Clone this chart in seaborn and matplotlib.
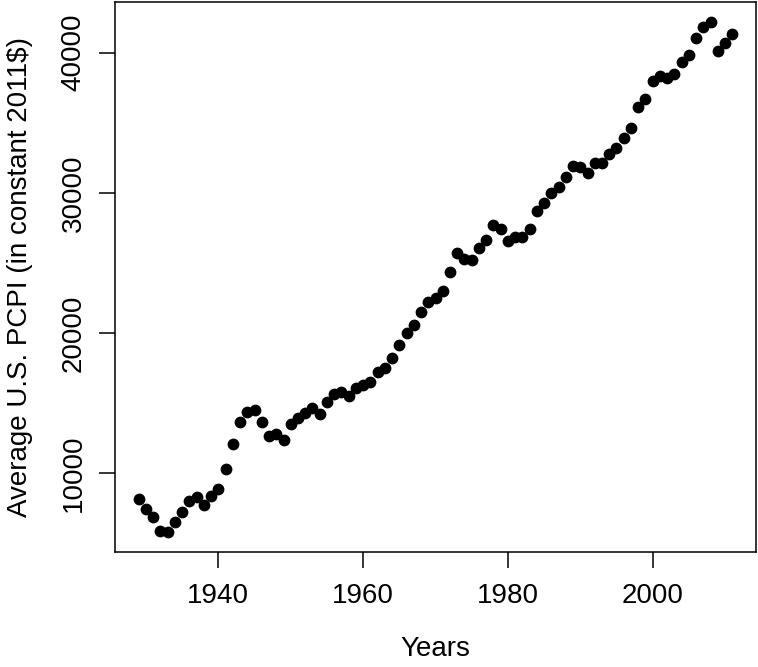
import numpy as np
import pandas as pd
import matplotlib
matplotlib.use("Agg")
import matplotlib.pyplot as plt
import seaborn as sns

# average U.S. per capita personal income, constant 2011 dollars
years = list(range(1929, 2012))
pcpi = [8174, 7413, 6894, 5899, 5807, 6517, 7228, 7982, 8316, 7747,
        8365, 8835, 10306, 12061, 13667, 14335, 14477, 13625, 12630, 12772,
        12388, 13525, 13909, 14286, 14620, 14236, 15046, 15630, 15757, 15515,
        16041, 16276, 16510, 17221, 17533, 18244, 19168, 20021, 20590, 21485,
        22196, 22508, 22977, 24328, 25706, 25280, 25181, 26034, 26652, 27696,
        27412, 26581, 26843, 26886, 27433, 28713, 29303, 30013, 30440, 31151,
        31890, 31818, 31392, 32146, 32146, 32790, 33169, 33900, 34610, 36150,
        36710, 37960, 38340, 38215, 38500, 39360, 39850, 41030, 41861, 42167,
        40106, 40674, 41342]

xticks = [1940, 1960, 1980, 2000]
yticks = [10000, 20000, 30000, 40000]

df = pd.DataFrame({"Years": years, "PCPI": pcpi})

sns.set_style("ticks")
plt.rcParams['font.family'] = ['Liberation Sans', 'DejaVu Sans']

fig = plt.figure(figsize=(7.58, 6.67), dpi=100)
ax = fig.add_axes([0.1517, 0.172, 0.8457, 0.825])

sns.scatterplot(data=df, x="Years", y="PCPI", color="black", s=72,
                edgecolor="black", linewidth=0, ax=ax)

# R-style 4% padding around the data range
def padded(vals):
    lo, hi = min(vals), max(vals)
    d = (hi - lo) * 0.04
    return lo - d, hi + d

ax.set_xlim(*padded(years))
ax.set_ylim(*padded(pcpi))
ax.set_xticks(xticks)
ax.set_yticks(yticks)
ax.set_yticklabels([str(v) for v in yticks], rotation=90, va="center")

for sp in ax.spines.values():
    sp.set_visible(True)
    sp.set_color("black")
    sp.set_linewidth(1.1)

ax.tick_params(axis="both", direction="out", length=11.3, width=1.1,
               color="black", labelsize=20, labelcolor="black")
ax.tick_params(axis="x", pad=11)
ax.tick_params(axis="y", pad=9)

ax.set_xlabel("Years", fontsize=20, labelpad=19, color="black")
ax.set_ylabel("Average U.S. PCPI (in constant 2011$)", fontsize=20,
              labelpad=20, color="black")

fig.savefig("out.png", dpi=100)
